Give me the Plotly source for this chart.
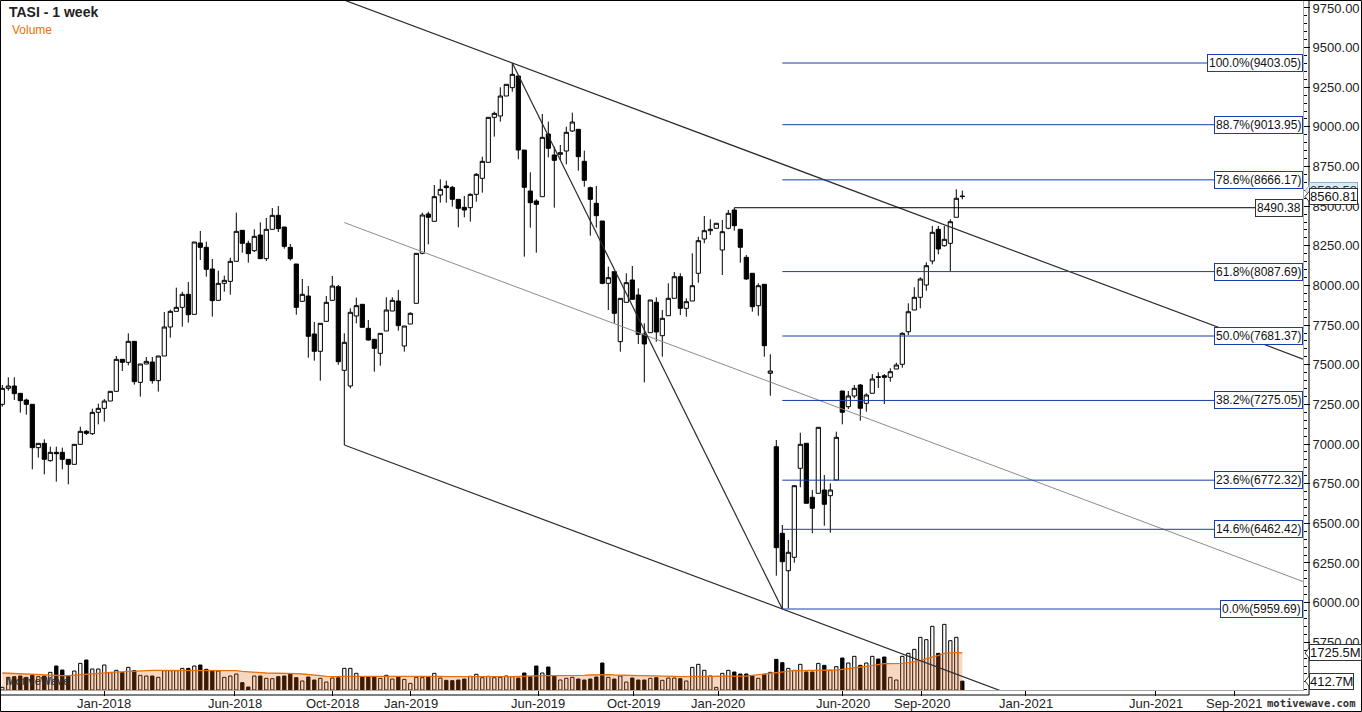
import plotly.graph_objects as go

# ---------------- data (weekly bars) ----------------
opens = [
    7250.5, 7351.4, 7366.1, 7319.9, 7277.8, 7250.5, 6977.2, 7004.5, 6895.2, 6947.7,
    6947.7, 6903.6, 6872.1, 6998.2, 7080.2, 7065.5, 7200.0, 7225.2, 7271.5, 7332.5,
    7534.3, 7515.3, 7647.8, 7389.2, 7504.8, 7517.4, 7399.7, 7555.3, 7738.1, 7837.0,
    7862.2, 7944.2, 7818.1, 8267.9, 8240.6, 8103.9, 7906.3, 8013.5, 8026.2, 8152.3,
    8347.8, 8265.8, 8219.6, 8318.4, 8169.1, 8354.1, 8442.4, 8368.8, 8240.6, 8135.5,
    7900.0, 7933.7, 7694.0, 7584.7, 7773.9, 7906.3, 7992.5, 7464.9, 7366.2, 7807.6,
    7881.2, 7729.8, 7660.4, 7572.1, 7713.0, 7839.1, 7902.2, 7618.4, 7757.1, 7887.4,
    8202.7, 8450.8, 8404.5, 8570.6, 8627.4, 8618.9, 8543.3, 8492.8, 8490.7, 8574.8,
    8675.7, 8776.6, 9060.4, 9068.8, 9194.9, 9247.5, 9321.1, 8854.4, 8595.8, 8532.8,
    8560.1, 8955.3, 8822.9, 8827.1, 8848.1, 8974.2, 8984.7, 8782.9, 8616.9, 8518.1,
    8406.6, 8013.6, 8087.1, 7645.7, 7893.7, 8034.6, 7939.9, 7694.0, 7702.4, 7893.7,
    7683.3, 7809.4, 7919.2, 8055.4, 7856.0, 7902.1, 8076.8, 8293.1, 8345.5, 8360.6,
    8223.8, 8360.6, 8476.0, 8354.3, 8177.7, 8076.8, 7872.5, 8007.5, 7446.2, 6983.3,
    6437.2, 6201.3, 6285.8, 6847.0, 7004.7, 6664.2, 6689.4, 6710.2, 6674.3, 6773.3,
    7334.6, 7235.6, 7303.0, 7372.4, 7257.0, 7320.1, 7424.7, 7431.0, 7420.9, 7473.3,
    7502.9, 7708.5, 7845.4, 7925.4, 8003.0, 8154.4, 8354.3, 8250.9, 8266.0, 8430.0,
    8564.3,
]
highs = [
    7372.5, 7420.8, 7421.0, 7320.0, 7286.2, 7250.5, 7004.5, 7029.8, 6983.5, 6983.5,
    6977.2, 6903.6, 6998.2, 7109.6, 7088.6, 7223.1, 7254.6, 7284.1, 7332.5, 7555.3,
    7534.3, 7698.2, 7647.8, 7504.8, 7549.0, 7549.0, 7555.3, 7832.8, 7847.5, 7986.2,
    7961.0, 8022.0, 8274.2, 8343.6, 8276.3, 8167.0, 8093.4, 8061.9, 8175.4, 8459.2,
    8347.8, 8282.6, 8354.1, 8398.2, 8425.6, 8488.6, 8501.2, 8368.8, 8261.6, 8135.5,
    8040.9, 7996.7, 7769.7, 7761.3, 7933.7, 8059.8, 8003.0, 7698.2, 7855.9, 7923.3,
    7881.2, 7782.3, 7660.4, 7698.2, 7925.4, 7925.4, 7971.6, 7744.5, 7830.8, 8202.7,
    8459.2, 8465.5, 8633.7, 8669.4, 8661.0, 8627.4, 8543.3, 8564.3, 8581.1, 8709.4,
    8812.3, 9060.4, 9096.2, 9249.6, 9268.5, 9403.05, 9321.1, 8854.4, 8713.6, 8543.3,
    9081.4, 9033.1, 8875.4, 8885.9, 9001.6, 9089.8, 8984.7, 8850.2, 8623.2, 8627.4,
    8406.6, 8118.7, 8087.1, 7918.9, 8076.6, 8122.9, 7981.9, 7761.3, 7908.4, 7925.4,
    7845.4, 8013.8, 8085.0, 8076.8, 7919.2, 8202.9, 8307.7, 8438.1, 8417.3, 8392.2,
    8412.9, 8476.0, 8490.38, 8354.3, 8192.2, 8076.8, 8013.8, 8007.5, 7566.0, 7025.6,
    6489.5, 6394.9, 6737.4, 7071.6, 7004.7, 6710.2, 7105.6, 6804.8, 6752.5, 7077.9,
    7334.6, 7334.6, 7372.4, 7378.7, 7320.1, 7441.8, 7452.5, 7441.8, 7477.8, 7513.0,
    7704.8, 7887.6, 7988.5, 8051.6, 8146.2, 8375.1, 8375.1, 8375.1, 8417.3, 8606.6,
    8598.58,
]
lows = [
    7235.8, 7336.7, 7277.8, 7198.0, 7185.3, 6840.6, 6914.1, 6809.0, 6888.9, 6762.8,
    6840.6, 6746.0, 6872.1, 6998.2, 7057.1, 7057.1, 7124.4, 7141.2, 7271.5, 7332.5,
    7460.7, 7496.4, 7374.5, 7298.8, 7504.8, 7380.8, 7330.4, 7555.3, 7670.9, 7837.0,
    7740.3, 7765.5, 7818.1, 8160.7, 8055.6, 7803.3, 7906.3, 7961.0, 7942.1, 8152.3,
    8207.0, 8143.9, 8211.2, 8169.1, 8154.4, 8354.1, 8337.3, 8232.2, 8156.5, 7815.9,
    7900.0, 7544.8, 7525.8, 7399.7, 7773.9, 7906.3, 7500.6, 6994.0, 7351.4, 7761.3,
    7736.1, 7652.0, 7456.5, 7494.3, 7713.0, 7839.1, 7715.1, 7582.6, 7757.1, 7887.4,
    8196.4, 8259.5, 8404.5, 8522.3, 8522.3, 8497.0, 8366.7, 8429.8, 8402.4, 8528.6,
    8585.3, 8776.6, 8938.5, 9033.1, 9194.9, 9222.3, 8795.6, 8181.7, 8364.6, 8206.9,
    8560.1, 8808.2, 8490.7, 8791.3, 8764.0, 8967.9, 8724.1, 8623.2, 8314.2, 8364.6,
    8007.2, 7845.4, 7761.3, 7582.6, 7893.7, 7912.6, 7630.9, 7389.2, 7702.4, 7645.7,
    7550.9, 7809.4, 7919.2, 7813.8, 7803.1, 7902.1, 8017.5, 8266.0, 8318.3, 8360.6,
    8066.1, 8354.3, 8345.5, 8143.7, 8034.6, 7834.6, 7809.4, 7550.9, 7305.0, 6169.8,
    5959.69, 5964.0, 6251.8, 6727.3, 6626.3, 6437.2, 6689.4, 6485.0, 6441.0, 6773.3,
    7124.6, 7221.0, 7288.5, 7147.2, 7204.0, 7320.1, 7353.5, 7252.6, 7393.2, 7473.3,
    7481.5, 7687.7, 7845.4, 7856.0, 7967.0, 8133.6, 8196.6, 8244.6, 8087.7, 8430.0,
    8543.5,
]
closes = [
    7351.4, 7366.1, 7317.8, 7273.6, 7250.5, 6977.2, 7004.5, 6903.6, 6947.7, 6939.3,
    6903.6, 6872.1, 6998.2, 7080.2, 7067.6, 7200.0, 7225.2, 7271.5, 7332.5, 7534.3,
    7515.3, 7647.8, 7393.4, 7504.8, 7521.6, 7399.7, 7555.3, 7738.1, 7837.0, 7862.2,
    7944.2, 7815.9, 8274.2, 8240.6, 8101.8, 7904.2, 8013.5, 8032.5, 8152.3, 8341.5,
    8265.8, 8200.7, 8309.9, 8169.1, 8354.1, 8442.4, 8358.3, 8246.9, 8169.1, 7862.2,
    7944.2, 7679.3, 7584.7, 7761.3, 7893.7, 7996.7, 7519.5, 7641.5, 7830.8, 7872.8,
    7736.1, 7656.1, 7603.6, 7698.2, 7845.4, 7906.4, 7746.6, 7744.5, 7824.5, 8202.7,
    8444.5, 8429.8, 8560.1, 8606.3, 8616.9, 8543.3, 8486.5, 8476.0, 8574.8, 8700.9,
    8782.9, 9060.4, 9085.6, 9194.9, 9268.5, 9331.6, 8854.4, 8619.0, 8522.3, 8511.7,
    8934.3, 8864.9, 8789.2, 8837.6, 8965.8, 9031.0, 8812.4, 8663.1, 8543.3, 8440.3,
    8013.6, 8049.3, 7824.4, 7918.9, 8017.8, 7912.6, 7691.9, 7630.9, 7908.4, 7706.7,
    7793.0, 7919.2, 8055.4, 7856.0, 7897.7, 7998.6, 8282.4, 8345.5, 8354.3, 8392.2,
    8339.2, 8455.2, 8377.0, 8240.8, 8040.9, 7866.2, 7998.6, 7620.2, 7460.7, 6346.4,
    6258.0, 6317.4, 6737.4, 6998.4, 6626.3, 6594.8, 7105.6, 6620.1, 6710.2, 7042.6,
    7200.2, 7303.0, 7351.6, 7225.5, 7309.4, 7410.2, 7421.0, 7420.9, 7456.3, 7498.5,
    7698.4, 7834.6, 7925.4, 8040.9, 8124.7, 8335.4, 8230.1, 8291.2, 8402.2, 8549.8,
    8560.81,
]
volume_m = [
    124, 590, 621, 652, 590, 683, 621, 652, 823, 1118,
    932, 652, 885, 1242, 1398, 978, 978, 1165, 808, 916,
    808, 1056, 901, 683, 652, 652, 590, 901, 901, 901,
    1009, 1009, 1118, 1165, 963, 885, 885, 590, 652, 745,
    342, 140, 652, 652, 544, 528, 621, 652, 745, 575,
    419, 606, 466, 544, 373, 559, 575, 1009, 1009, 777,
    606, 606, 606, 544, 683, 512, 606, 497, 311, 590,
    575, 606, 777, 559, 450, 435, 466, 512, 637, 730,
    575, 637, 575, 590, 652, 621, 559, 792, 621, 1118,
    792, 1072, 652, 466, 544, 590, 512, 466, 512, 606,
    1258, 590, 512, 652, 373, 559, 466, 466, 544, 575,
    450, 559, 559, 528, 419, 1056, 1196, 916, 652, 124,
    777, 916, 839, 745, 745, 652, 544, 714, 823, 1429,
    1273, 1009, 916, 1196, 839, 839, 1242, 1149, 916, 1087,
    1491, 1258, 1569, 1149, 1258, 1569, 1444, 1537, 590, 466,
    1569, 1708, 1895, 2454, 2345, 2966, 1708, 3059, 2298, 2454,
    412.7,
]
volume_ma_m = [
    792, 777, 761, 745, 730, 714, 699, 683, 683, 668,
    668, 668, 683, 699, 714, 745, 777, 792, 823, 839,
    870, 886, 901, 917, 917, 917, 917, 917, 917, 932,
    932, 932, 932, 932, 932, 917, 917, 917, 901, 901,
    870, 839, 823, 808, 792, 792, 792, 792, 777, 761,
    745, 730, 699, 668, 637, 621, 621, 637, 637, 637,
    637, 637, 652, 668, 668, 652, 637, 637, 637, 637,
    637, 637, 637, 637, 621, 621, 621, 621, 621, 621,
    606, 606, 606, 590, 606, 621, 637, 652, 668, 668,
    668, 668, 668, 652, 652, 652, 668, 683, 699, 714,
    730, 714, 699, 683, 668, 668, 668, 668, 668, 652,
    652, 652, 637, 621, 621, 621, 637, 637, 652, 652,
    652, 637, 637, 637, 652, 683, 714, 761, 808, 839,
    854, 886, 901, 901, 901, 901, 901, 917, 917, 932,
    963, 1010, 1041, 1072, 1103, 1149, 1212, 1227, 1227, 1227,
    1243, 1274, 1305, 1367, 1460, 1522, 1615, 1709, 1740, 1755,
    1725.5,
]
bars = list(range(len(closes)))

x_tick_pos = [17, 38.7, 55, 68.1, 89.3, 105.2, 119.3, 140.1, 153.2, 170.6, 192.2, 205.3]
x_tick_text = ["Jan-2018", "Jun-2018", "Oct-2018", "Jan-2019", "Jun-2019", "Oct-2019",
               "Jan-2020", "Jun-2020", "Sep-2020", "Jan-2021", "Jun-2021", "Sep-2021"]
price_ticks = [5750, 6000, 6250, 6500, 6750, 7000, 7250, 7500, 7750, 8000, 8250,
               8500, 8750, 9000, 9250, 9500, 9750]
fib_pct = ["100.0%", "88.7%", "78.6%", "61.8%", "50.0%", "38.2%", "23.6%", "14.6%", "0.0%"]
fib_val = [9403.05, 9013.95, 8666.17, 8087.69, 7681.37, 7275.05, 6772.32, 6462.42, 5959.69]
last_price = 8560.81
last_high_label = 8598.58
resistance = 8490.38
vol_last = 412.7
vol_ma_last = 1725.5

# ---------------- layout geometry ----------------
W, H = 1362, 712
ML, MR, MT, MB = 1, 59, 1, 22
PW, PH = W - ML - MR, H - MT - MB
X_RANGE = [-0.2167, 216.78]
Y_RANGE = [5448.98, 9794.04]
VOL_RANGE = [0, 32107]


def pxx(px):
    return (px - ML) / PW


def pxy(py):
    return (MT + PH - py) / PH


def price_py(v):
    return MT + PH * (Y_RANGE[1] - v) / (Y_RANGE[1] - Y_RANGE[0])


def vol_py(v):
    return MT + PH * (VOL_RANGE[1] - v) / (VOL_RANGE[1] - VOL_RANGE[0])


BLUE = "#143fa6"
FONT = "Liberation Sans, Arial, sans-serif"

fig = go.Figure()

# volume bars
vol_colors = ["white" if c >= o else "black" for o, c in zip(opens, closes)]
fig.add_trace(go.Bar(
    x=bars, y=volume_m, yaxis="y2", width=0.55,
    marker=dict(color=vol_colors, line=dict(color="black", width=1)),
    hoverinfo="skip",
))
# volume moving average (area)
fig.add_trace(go.Scatter(
    x=bars, y=volume_ma_m, yaxis="y2", mode="lines", fill="tozeroy",
    fillcolor="rgba(227,100,19,0.26)", line=dict(color="#e8700a", width=1.3),
    hoverinfo="skip",
))
# price candles
fig.add_trace(go.Candlestick(
    x=bars, open=opens, high=highs, low=lows, close=closes,
    increasing=dict(fillcolor="white", line=dict(color="black", width=1)),
    decreasing=dict(fillcolor="black", line=dict(color="black", width=1)),
    whiskerwidth=0, hoverinfo="skip",
))

# ---------------- drawings derived from the data ----------------
peak_i = max(bars, key=lambda i: highs[i])
low_i = min(bars, key=lambda i: lows[i])
oct_i = min(range(40, 80), key=lambda i: lows[i])
jan_i = max(range(110, 130), key=lambda i: highs[i])
slope = (lows[low_i] - lows[oct_i]) / (low_i - oct_i)
xe = X_RANGE[1]


def upper(x):
    return highs[peak_i] + slope * (x - peak_i)


def lower(x):
    return lows[oct_i] + slope * (x - oct_i)


shapes = []
shapes.append(dict(type="line", x0=oct_i, y0=upper(oct_i), x1=xe, y1=upper(xe),
                   line=dict(color="#2b2b2b", width=1.2)))
shapes.append(dict(type="line", x0=oct_i, y0=lower(oct_i), x1=xe, y1=lower(xe),
                   line=dict(color="#2b2b2b", width=1.2)))
shapes.append(dict(type="line", x0=oct_i, y0=(upper(oct_i) + lower(oct_i)) / 2, x1=xe,
                   y1=(upper(xe) + lower(xe)) / 2, line=dict(color="#8c8c8c", width=1)))
shapes.append(dict(type="line", x0=peak_i, y0=highs[peak_i], x1=low_i, y1=lows[low_i],
                   line=dict(color="#2b2b2b", width=1.2)))
shapes.append(dict(type="line", x0=jan_i, y0=resistance, x1=xe, y1=resistance,
                   line=dict(color="black", width=1)))
for v in fib_val:
    shapes.append(dict(type="line", x0=low_i, y0=v, x1=xe, y1=v,
                       line=dict(color=BLUE, width=1)))

# frame lines in pixel space
shapes.append(dict(type="line", xref="paper", yref="paper", x0=pxx(1309), x1=pxx(1309),
                   y0=pxy(695), y1=pxy(0), line=dict(color="black", width=1)))
shapes.append(dict(type="line", xref="paper", yref="paper", x0=pxx(0), x1=pxx(1309),
                   y0=pxy(695), y1=pxy(695), line=dict(color="black", width=1)))
shapes.append(dict(type="rect", xref="paper", yref="paper", x0=pxx(0.5), x1=pxx(1361.5),
                   y0=pxy(711.5), y1=pxy(0.5), line=dict(color="black", width=1)))

annotations = []
for p, v in zip(fib_pct, fib_val):
    annotations.append(dict(
        x=1, xref="paper", y=v, yref="y", xanchor="right", yanchor="middle",
        text=f"{p}({v:.2f})", showarrow=False, bgcolor="white", bordercolor=BLUE,
        borderwidth=1, borderpad=1, font=dict(family=FONT, size=12, color="#111")))
annotations.append(dict(
    x=1, xref="paper", y=resistance, yref="y", xanchor="right", yanchor="middle",
    text=f"{resistance:.2f}", showarrow=False, bgcolor="white", bordercolor="#333",
    borderwidth=1, borderpad=1, font=dict(family=FONT, size=12, color="#111")))

# right-hand value tags (box + left-pointing notch)
tags = [
    (price_py(last_high_label), f"{last_high_label:.2f}", "#d6ecf7", "#8fb5cc", "#333"),
    (price_py(last_price), f"{last_price:.2f}", "white", "#333", "#111"),
    (vol_py(vol_ma_last), f"{vol_ma_last:.1f}M", "white", "#333", "#111"),
    (vol_py(vol_last), f"{vol_last:.1f}M", "white", "#333", "#111"),
]
for py, txt, bg, bc, fc in tags:
    shapes.append(dict(
        type="path", xref="paper", yref="paper",
        path=(f"M {pxx(1305)} {pxy(py)} L {pxx(1310)} {pxy(py - 6)} "
              f"L {pxx(1310)} {pxy(py + 6)} Z"),
        fillcolor=bg, line=dict(color=bc, width=1)))
    annotations.append(dict(
        x=pxx(1309), xref="paper", y=pxy(py), yref="paper", xanchor="left",
        yanchor="middle", text=txt, showarrow=False, bgcolor=bg, bordercolor=bc,
        borderwidth=1, borderpad=0, font=dict(family=FONT, size=13, color=fc)))

# x-axis labels
for xv, t in zip(x_tick_pos, x_tick_text):
    annotations.append(dict(
        x=xv, xref="x", y=pxy(703), yref="paper", xanchor="center", yanchor="middle",
        text=t, showarrow=False, font=dict(family=FONT, size=13, color="#222")))

annotations.append(dict(
    x=pxx(7), xref="paper", y=pxy(12), yref="paper", xanchor="left", yanchor="middle",
    text="<b>TASI - 1 week</b>", showarrow=False,
    font=dict(family=FONT, size=14, color="#222")))
annotations.append(dict(
    x=pxx(10), xref="paper", y=pxy(30), yref="paper", xanchor="left", yanchor="middle",
    text="Volume", showarrow=False, font=dict(family=FONT, size=12, color="#e8700a")))
annotations.append(dict(
    x=pxx(4), xref="paper", y=pxy(681), yref="paper", xanchor="left", yanchor="middle",
    text="<b>MotiveWave</b>", showarrow=False,
    font=dict(family=FONT, size=11, color="rgba(45,45,45,0.9)")))
annotations.append(dict(
    x=pxx(1358), xref="paper", y=pxy(703), yref="paper", xanchor="right", yanchor="middle",
    text="<b>motivewave.com</b>", showarrow=False,
    font=dict(family="DejaVu Sans Mono, monospace", size=10.5, color="#333")))

fig.update_layout(
    width=W, height=H,
    margin=dict(l=ML, r=MR, t=MT, b=MB, pad=0),
    paper_bgcolor="white", plot_bgcolor="white",
    showlegend=False, hovermode=False,
    boxgap=0.3, boxgroupgap=0.0, bargap=0,
    shapes=shapes, annotations=annotations,
    xaxis=dict(
        range=X_RANGE, tickmode="array", tickvals=x_tick_pos, ticktext=x_tick_text,
        showticklabels=False,
        ticks="outside", ticklen=5, tickcolor="black", showgrid=False, zeroline=False,
        showline=True, linecolor="#a8a8a8", linewidth=1,
        rangeslider=dict(visible=False), fixedrange=True, automargin=False,
    ),
    yaxis=dict(
        side="right", range=Y_RANGE, tickmode="array", tickvals=price_ticks,
        tickformat=".2f", ticks="outside", ticklen=6, tickcolor="black",
        minor=dict(ticks="outside", ticklen=3, tickcolor="black", tickmode="linear",
                   tick0=0, dtick=50, showgrid=False),
        showgrid=False, zeroline=False, showline=True, linecolor="#a8a8a8", linewidth=1,
        tickfont=dict(family=FONT, size=13, color="#222"), fixedrange=True,
        automargin=False,
    ),
    yaxis2=dict(overlaying="y", range=VOL_RANGE, visible=False, fixedrange=True),
)

fig.write_html(
    "out.html",
    config={"displayModeBar": False, "staticPlot": True},
    post_script="document.body.style.margin='0';document.body.style.overflow='hidden';",
)
